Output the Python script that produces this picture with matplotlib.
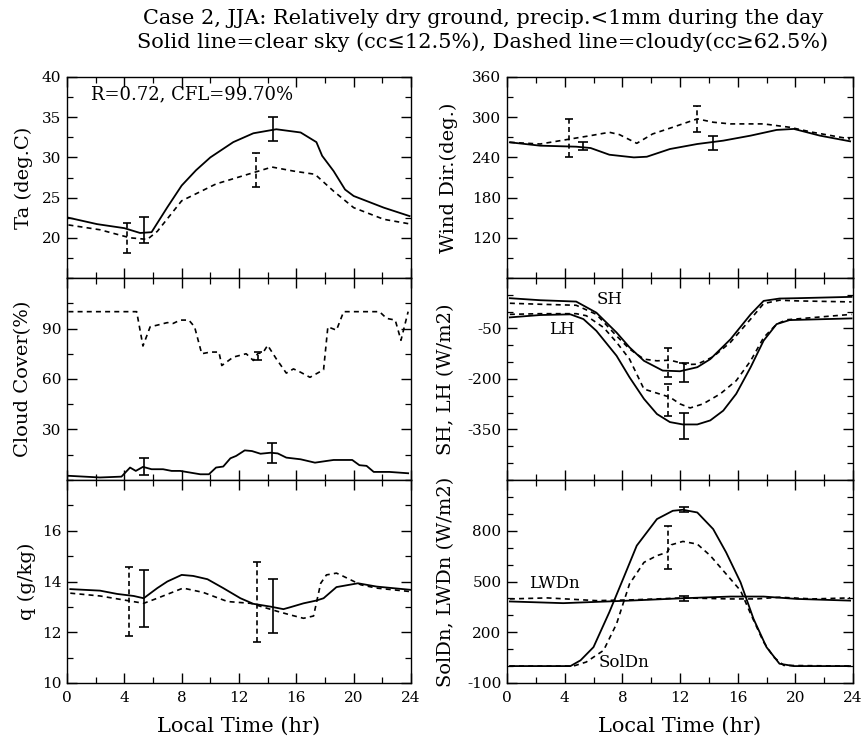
import matplotlib
matplotlib.use("Agg")
import matplotlib.pyplot as plt
from matplotlib.ticker import MultipleLocator, FixedLocator

plt.rcParams['font.family'] = ['DejaVu Serif']

# ---------------- data ----------------
# Air temperature (deg C)
ta_clear_x = [0.1, 2.1, 4.0, 5.1, 5.9, 7.0, 8.0, 9.0, 10.0, 11.6, 13.0, 14.6, 16.3, 17.4, 17.8, 18.6, 19.4, 20.0, 22.1, 23.9]
ta_clear_y = [22.5, 21.7, 21.2, 20.6, 20.7, 23.8, 26.5, 28.4, 30.0, 31.9, 33.0, 33.5, 33.1, 31.9, 30.2, 28.3, 26.0, 25.2, 23.75, 22.7]
ta_cloudy_x = [0.1, 2.3, 4.4, 5.6, 6.3, 8.0, 10.4, 13.0, 14.3, 15.8, 17.3, 18.6, 20.0, 22.1, 24.0]
ta_cloudy_y = [21.6, 21.0, 20.0, 19.8, 20.8, 24.6, 26.7, 28.1, 28.8, 28.3, 27.9, 25.8, 23.75, 22.3, 21.7]
ta_clear_err = ([5.4, 14.35], [19.3, 32.0], [22.6, 35.0])
ta_cloudy_err = ([4.2, 13.2], [18.1, 26.3], [21.8, 30.6])

# Wind direction (deg)
wd_clear_x = [0.2, 2.3, 4.8, 5.8, 7.1, 8.8, 9.7, 11.3, 13.2, 15.0, 16.9, 18.7, 19.9, 21.7, 23.8]
wd_clear_y = [262.5, 257.5, 256, 254, 244, 240, 241, 252.5, 260, 265, 272.5, 281, 282.5, 272.5, 264]
wd_cloudy_x = [0.2, 2.3, 4.4, 5.8, 7.1, 7.8, 9.0, 10.1, 11.5, 13.2, 14.3, 15.5, 17.8, 19.6, 21.2, 23.8]
wd_cloudy_y = [262.5, 260, 267.5, 272.5, 277.5, 274, 261, 275, 285, 297.5, 292.5, 290, 290, 285, 277.5, 267.5]
wd_clear_err = ([5.3, 14.3], [251, 251], [263.5, 272.5])
wd_cloudy_err = ([4.3, 13.2], [241, 277.5], [297.5, 316])

# Cloud cover (%)
cc_clear_x = [0.1, 2.3, 3.8, 4.4, 4.8, 5.3, 5.9, 6.7, 7.3, 7.9, 8.6, 9.3, 9.9, 10.4, 10.9, 11.4, 11.8, 12.4, 12.9,
              13.5, 14.2, 14.7, 15.3, 16.3, 17.3, 18.1, 18.6, 19.9, 20.4, 20.9, 21.4, 22.5, 23.8]
cc_clear_y = [2.5, 1.5, 2.0, 7.4, 5.4, 7.8, 6.4, 6.4, 5.4, 5.4, 4.4, 3.4, 3.4, 7.4, 8.0, 12.9, 14.3, 17.6, 17.2,
              15.6, 16.2, 15.8, 13.3, 12.3, 10.3, 11.3, 11.9, 11.9, 8.8, 8.4, 4.8, 4.8, 4.0]
cc_cloudy_x = [0.1, 4.86, 5.3, 5.8, 6.3, 7.0, 7.4, 7.9, 8.5, 8.9, 9.4, 10.0, 10.6, 10.8, 11.6, 12.5, 13.0, 13.3,
               13.7, 14.0, 14.6, 15.3, 15.8, 16.3, 16.95, 17.9, 18.2, 18.8, 19.3, 21.8, 22.3, 22.9, 23.3, 23.8]
cc_cloudy_y = [100, 100, 79.6, 91, 92, 93.5, 93, 95, 95, 91, 75, 76, 76, 68, 73, 75, 71, 75,
               76, 80, 72, 63.5, 66, 64, 61, 65.5, 91, 89, 100, 100, 96, 95, 83, 100]
cc_clear_err = ([5.4, 14.3], [3.0, 10.3], [12.9, 22.1])
cc_cloudy_err = ([13.3], [71.0], [76.0])

# Sensible / latent heat flux (W/m2)
sh_clear_x = [0.2, 2.3, 4.8, 6.2, 7.6, 8.5, 9.5, 10.8, 12.0, 13.2, 14.1, 15.5, 16.9, 17.8, 18.9, 20.1, 23.9]
sh_clear_y = [40, 34, 30, -3, -62, -106, -146, -175, -177, -165, -141, -82, -8, 32, 39, 40, 44]
sh_cloudy_x = [0.2, 2.3, 4.8, 6.2, 7.6, 8.5, 9.5, 10.4, 11.3, 12.5, 13.2, 14.3, 15.5, 16.9, 17.8, 18.9, 20.1, 23.9]
sh_cloudy_y = [25, 22, 19, -8, -72, -111, -141, -146, -144, -157, -156, -134, -91, -22, 24, 34, 32, 29]
lh_clear_x = [0.2, 2.3, 4.4, 5.3, 6.2, 7.6, 8.5, 9.5, 10.4, 11.3, 12.2, 13.2, 14.1, 15.0, 15.9, 16.9, 17.8, 18.7, 19.6, 23.9]
lh_clear_y = [-17, -10, -8, -22, -57, -131, -195, -259, -304, -328, -335, -335, -323, -294, -244, -165, -86, -37, -25, -20]
lh_cloudy_x = [0.2, 2.3, 4.8, 5.5, 6.7, 7.6, 8.5, 9.5, 10.4, 11.3, 12.0, 12.7, 13.6, 14.8, 15.9, 16.9, 17.8, 18.7, 19.4, 23.9]
lh_cloudy_y = [-8, -6, -6, -12, -47, -91, -141, -230, -242, -254, -274, -286, -274, -244, -205, -146, -77, -37, -24, -8]
sh_clear_err = ([12.3], [-208], [-153])
sh_cloudy_err = ([11.2], [-195], [-109])
lh_clear_err = ([12.3], [-378], [-300])
lh_cloudy_err = ([11.2], [-309], [-215])

# Specific humidity (g/kg)
q_clear_x = [0.23, 2.3, 3.5, 4.65, 5.35, 6.3, 7.0, 8.0, 8.8, 9.8, 10.9, 12.1, 13.0, 14.2, 15.1, 15.6, 16.5, 17.4,
             17.9, 18.8, 20.3, 21.6, 24.0]
q_clear_y = [13.70, 13.64, 13.51, 13.43, 13.34, 13.74, 14.0, 14.26, 14.22, 14.09, 13.74, 13.34, 13.12, 13.01, 12.91,
             12.99, 13.14, 13.25, 13.34, 13.78, 13.93, 13.80, 13.67]
q_cloudy_x = [0.23, 2.3, 4.2, 5.35, 6.3, 8.1, 9.5, 11.2, 12.8, 14.7, 15.6, 16.5, 17.2, 17.7, 18.1, 18.8, 19.3,
              20.5, 21.6, 24.0]
q_cloudy_y = [13.54, 13.43, 13.25, 13.14, 13.34, 13.74, 13.57, 13.21, 13.14, 12.82, 12.68, 12.55, 12.64, 13.93,
              14.26, 14.33, 14.2, 13.87, 13.74, 13.6]
q_clear_err = ([5.4, 14.4], [12.22, 11.96], [14.46, 14.09])
q_cloudy_err = ([4.35, 13.25], [11.87, 11.6], [14.59, 14.75])

# Downward solar / longwave radiation (W/m2)
sol_clear_x = [0.2, 4.4, 5.1, 6.0, 7.1, 8.1, 9.0, 10.4, 11.5, 12.2, 13.2, 14.3, 15.2, 16.2, 17.1, 18.0, 18.9, 19.9, 23.8]
sol_clear_y = [0, 0, 34, 112, 319, 525, 712, 869, 918, 924, 908, 810, 672, 495, 279, 112, 14, 0, 0]
sol_cloudy_x = [0.2, 4.6, 5.5, 6.7, 7.6, 8.5, 9.5, 10.4, 11.1, 11.4, 12.2, 13.2, 14.1, 15.0, 16.2, 16.9, 17.8,
                18.5, 19.2, 23.8]
sol_cloudy_y = [0, 0, 24, 93, 250, 486, 613, 653, 672, 717, 737, 721, 653, 564, 446, 309, 142, 53, 4, 0]
lw_clear_x = [0.2, 3.9, 8.5, 12.2, 15.5, 17.8, 20.1, 23.8]
lw_clear_y = [382, 372, 387, 401, 411, 411, 397, 387]
lw_cloudy_x = [0.2, 2.8, 6.2, 8.5, 12.2, 15.5, 17.3, 18.9, 21.2, 23.8]
lw_cloudy_y = [397, 403, 387, 391, 403, 397, 397, 407, 397, 403]
sol_clear_err = ([12.3], [908], [941])
sol_cloudy_err = ([11.2], [574], [829])
lw_clear_err = ([12.3], [387], [413])

hour_ticks = [0, 4, 8, 12, 16, 20, 24]

# ---------------- figure ----------------
W, H = 864, 742
fig = plt.figure(figsize=(W / 100, H / 100), dpi=100)

def px_axes(x0, x1, y0, y1):
    return fig.add_axes([x0 / W, 1 - y1 / H, (x1 - x0) / W, (y1 - y0) / H])

rows = [(77, 278), (278, 480), (480, 683)]
LX = (67, 411)
RX = (507, 853)

SOLID = dict(color='black', lw=1.3, ls='-')
DASH = dict(color='black', lw=1.2, ls=(0, (3, 2.5)))


def errbars(ax, err, dashed=False):
    xs, lo, hi = err
    mid = [(a + b) / 2 for a, b in zip(lo, hi)]
    half = [(b - a) / 2 for a, b in zip(lo, hi)]
    eb = ax.errorbar(xs, mid, yerr=half, fmt='none', ecolor='black',
                     elinewidth=1.2, capsize=3.8 if not dashed else 3.0, capthick=1.2)
    if dashed:
        for lc in eb[2]:
            lc.set_linestyle((0, (3, 2)))


def setup(ax, ylim, major, minor, labels, ylabel, labx, bottom=False):
    ax.set_xlim(0, 24)
    ax.set_ylim(*ylim)
    ax.xaxis.set_major_locator(FixedLocator(hour_ticks))
    ax.xaxis.set_minor_locator(MultipleLocator(2))
    ax.yaxis.set_major_locator(FixedLocator(major))
    ax.yaxis.set_minor_locator(MultipleLocator(minor))
    ax.set_yticklabels([str(v) for v in labels])
    ax.tick_params(which='both', direction='in', top=True, right=True, labelsize=11, colors='black')
    ax.tick_params(which='major', length=7, width=1.0, pad=4)
    ax.tick_params(which='minor', length=4.5, width=0.9)
    ax.tick_params(axis='x', which='major', pad=6)
    if bottom:
        ax.set_xticklabels([str(v) for v in hour_ticks])
        ax.set_xlabel('Local Time (hr)', fontsize=15)
        ax.xaxis.set_label_coords(0.5, -0.168)
    else:
        ax.set_xticklabels([])
    ax.set_ylabel(ylabel, fontsize=14)
    ax.yaxis.set_label_coords(labx, 0.5)
    for s in ax.spines.values():
        s.set_linewidth(1.0)
        s.set_color('black')


# Ta
ax = px_axes(LX[0], LX[1], *rows[0])
ax.plot(ta_clear_x, ta_clear_y, **SOLID)
ax.plot(ta_cloudy_x, ta_cloudy_y, **DASH)
errbars(ax, ta_clear_err)
errbars(ax, ta_cloudy_err, dashed=True)
setup(ax, (15, 40), [20, 25, 30, 35, 40], 2.5, [20, 25, 30, 35, 40], 'Ta (deg.C)', -0.100)
ax.text(1.7, 37.9, 'R=0.72, CFL=99.70%', fontsize=13, ha='left', va='center')

# Wind dir
ax = px_axes(RX[0], RX[1], *rows[0])
ax.plot(wd_clear_x, wd_clear_y, **SOLID)
ax.plot(wd_cloudy_x, wd_cloudy_y, **DASH)
errbars(ax, wd_clear_err)
errbars(ax, wd_cloudy_err, dashed=True)
setup(ax, (60, 360), [120, 180, 240, 300, 360], 30, [120, 180, 240, 300, 360], 'Wind Dir.(deg.)', -0.142)

# Cloud cover
ax = px_axes(LX[0], LX[1], *rows[1])
ax.plot(cc_clear_x, cc_clear_y, **SOLID)
ax.plot(cc_cloudy_x, cc_cloudy_y, **DASH)
errbars(ax, cc_clear_err)
errbars(ax, cc_cloudy_err, dashed=True)
setup(ax, (0, 120), [30, 60, 90], 15, [30, 60, 90], 'Cloud Cover(%)', -0.101)

# SH, LH
ax = px_axes(RX[0], RX[1], *rows[1])
ax.plot(sh_clear_x, sh_clear_y, **SOLID)
ax.plot(sh_cloudy_x, sh_cloudy_y, **DASH)
ax.plot(lh_clear_x, lh_clear_y, **SOLID)
ax.plot(lh_cloudy_x, lh_cloudy_y, **DASH)
errbars(ax, sh_clear_err)
errbars(ax, lh_clear_err)
errbars(ax, sh_cloudy_err, dashed=True)
errbars(ax, lh_cloudy_err, dashed=True)
setup(ax, (-500, 100), [-350, -200, -50], 50, [-350, -200, -50], 'SH, LH (W/m2)', -0.151)
ax.text(7.1, 36, 'SH', fontsize=12, ha='center', va='center')
ax.text(3.8, -52, 'LH', fontsize=12, ha='center', va='center')

# q
ax = px_axes(LX[0], LX[1], *rows[2])
ax.plot(q_clear_x, q_clear_y, **SOLID)
ax.plot(q_cloudy_x, q_cloudy_y, **DASH)
errbars(ax, q_clear_err)
errbars(ax, q_cloudy_err, dashed=True)
setup(ax, (10, 18), [10, 12, 14, 16], 1, [10, 12, 14, 16], 'q (g/kg)', -0.091, bottom=True)

# SolDn, LWDn
ax = px_axes(RX[0], RX[1], *rows[2])
ax.plot(sol_clear_x, sol_clear_y, **SOLID)
ax.plot(sol_cloudy_x, sol_cloudy_y, **DASH)
ax.plot(lw_clear_x, lw_clear_y, **SOLID)
ax.plot(lw_cloudy_x, lw_cloudy_y, **DASH)
errbars(ax, sol_clear_err)
errbars(ax, lw_clear_err)
errbars(ax, sol_cloudy_err, dashed=True)
setup(ax, (-100, 1100), [-100, 200, 500, 800], 100, [-100, 200, 500, 800], 'SolDn, LWDn (W/m2)', -0.151, bottom=True)
ax.text(3.3, 486, 'LWDn', fontsize=12, ha='center', va='center')
ax.text(8.1, 24, 'SolDn', fontsize=12, ha='center', va='center')

# Title
fig.text(483 / W, 1 - 18 / H, 'Case 2, JJA: Relatively dry ground, precip.<1mm during the day',
         fontsize=15, ha='center', va='center')
fig.text(483 / W, 1 - 42 / H, 'Solid line=clear sky (cc\u226412.5%), Dashed line=cloudy(cc\u226562.5%)',
         fontsize=15, ha='center', va='center')

fig.savefig('out.png', dpi=100)
